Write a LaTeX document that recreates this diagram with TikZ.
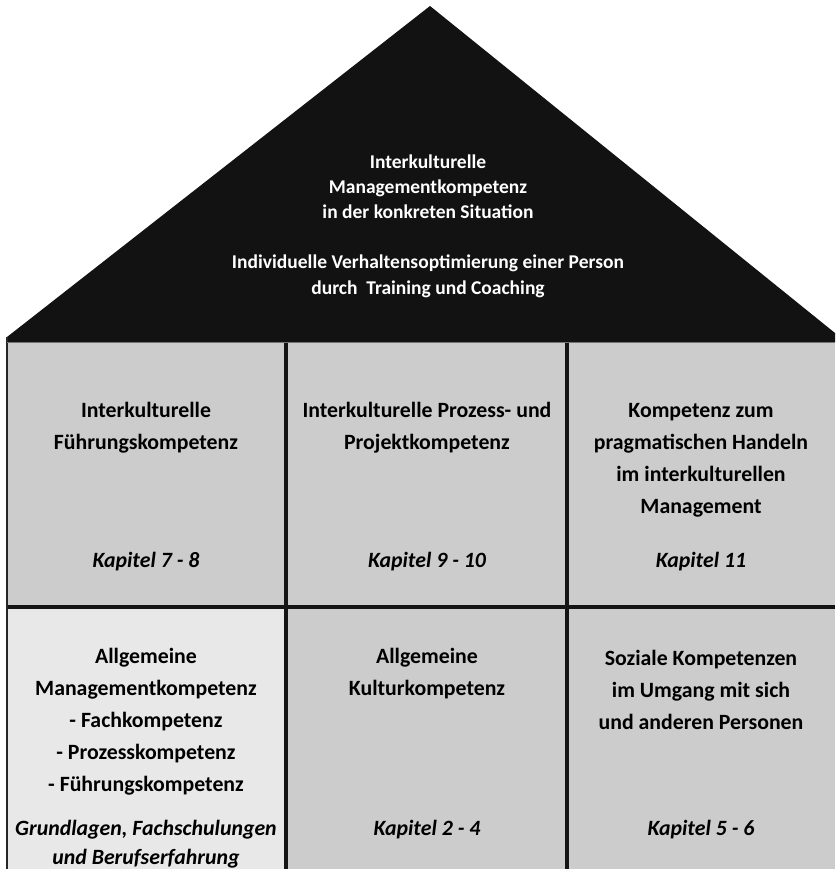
\documentclass[tikz,border=0pt]{standalone}
\usepackage{fontspec}
\setmainfont{Carlito}
\usetikzlibrary{positioning}

\tikzset{
  roof/.style={fill=black!93, draw=none},
  cell/.style={fill=black!20, draw=none},
  lightcell/.style={fill=black!9, draw=none},
  wall/.style={line width=3.2pt, draw=black!92},
  edge/.style={line width=1.6pt, draw=black!85},
  title/.style={align=center, font=\bfseries\fontsize{21.8}{32}\selectfont},
  chapter/.style={align=center, font=\bfseries\itshape\fontsize{21.8}{29}\selectfont},
  roofText/.style={align=center, text=white, font=\bfseries\fontsize{19.5}{25.2}\selectfont}
}

\begin{document}
\begin{tikzpicture}[x=1pt, y=-1pt]
  \useasboundingbox (0,0) rectangle (835,869);
  % Roof
  \fill[roof] (7,342) -- (7,337) -- (430,6) -- (835,333) -- (835,342) -- cycle;
  \node[roofText] (roofTxt) at (428,226) {Interkulturelle\\Managementkompetenz\\in der konkreten Situation\\[25.2pt]Individuelle Verhaltensoptimierung einer Person\\durch\ \ Training und Coaching};

  % Cells
  \fill[cell] (7,342) rectangle (835,869);
  \fill[lightcell] (7,607) rectangle (286,869);

  % Walls
  \draw[wall] (286,342) -- (286,869);
  \draw[wall] (567,342) -- (567,869);
  \draw[wall] (7,607) -- (835,607);
  \draw[edge] (7,337) -- (7,869);
  \draw[line width=1.2pt, draw=black!55] (7,342.5) -- (835,342.5);

  % Upper floor
  \node[title] (fuehrung) at (146,428) {Interkulturelle\\Führungskompetenz};
  \node[title] (prozess) at (427,428) {Interkulturelle Prozess- und\\Projektkompetenz};
  \node[title] (handeln) at (701,460) {Kompetenz zum\\pragmatischen Handeln\\im interkulturellen\\Management};
  \node[chapter] (kapA) at (146,562) {Kapitel 7 - 8};
  \node[chapter] (kapB) at (427,562) {Kapitel 9 - 10};
  \node[chapter] (kapC) at (701,562) {Kapitel 11};

  % Ground floor
  \node[title] (management) at (146,722) {Allgemeine\\Managementkompetenz\\- Fachkompetenz\\- Prozesskompetenz\\- Führungskompetenz};
  \node[title] (kultur) at (427,674) {Allgemeine\\Kulturkompetenz};
  \node[title] (sozial) at (701,690) {Soziale Kompetenzen\\im Umgang mit sich\\und anderen Personen};
  \node[chapter] (grundlagen) at (146,844.5) {Grundlagen, Fachschulungen\\und Berufserfahrung};
  \node[chapter] (kapD) at (427,830) {Kapitel 2 - 4};
  \node[chapter] (kapE) at (701,830) {Kapitel 5 - 6};
\end{tikzpicture}
\end{document}
